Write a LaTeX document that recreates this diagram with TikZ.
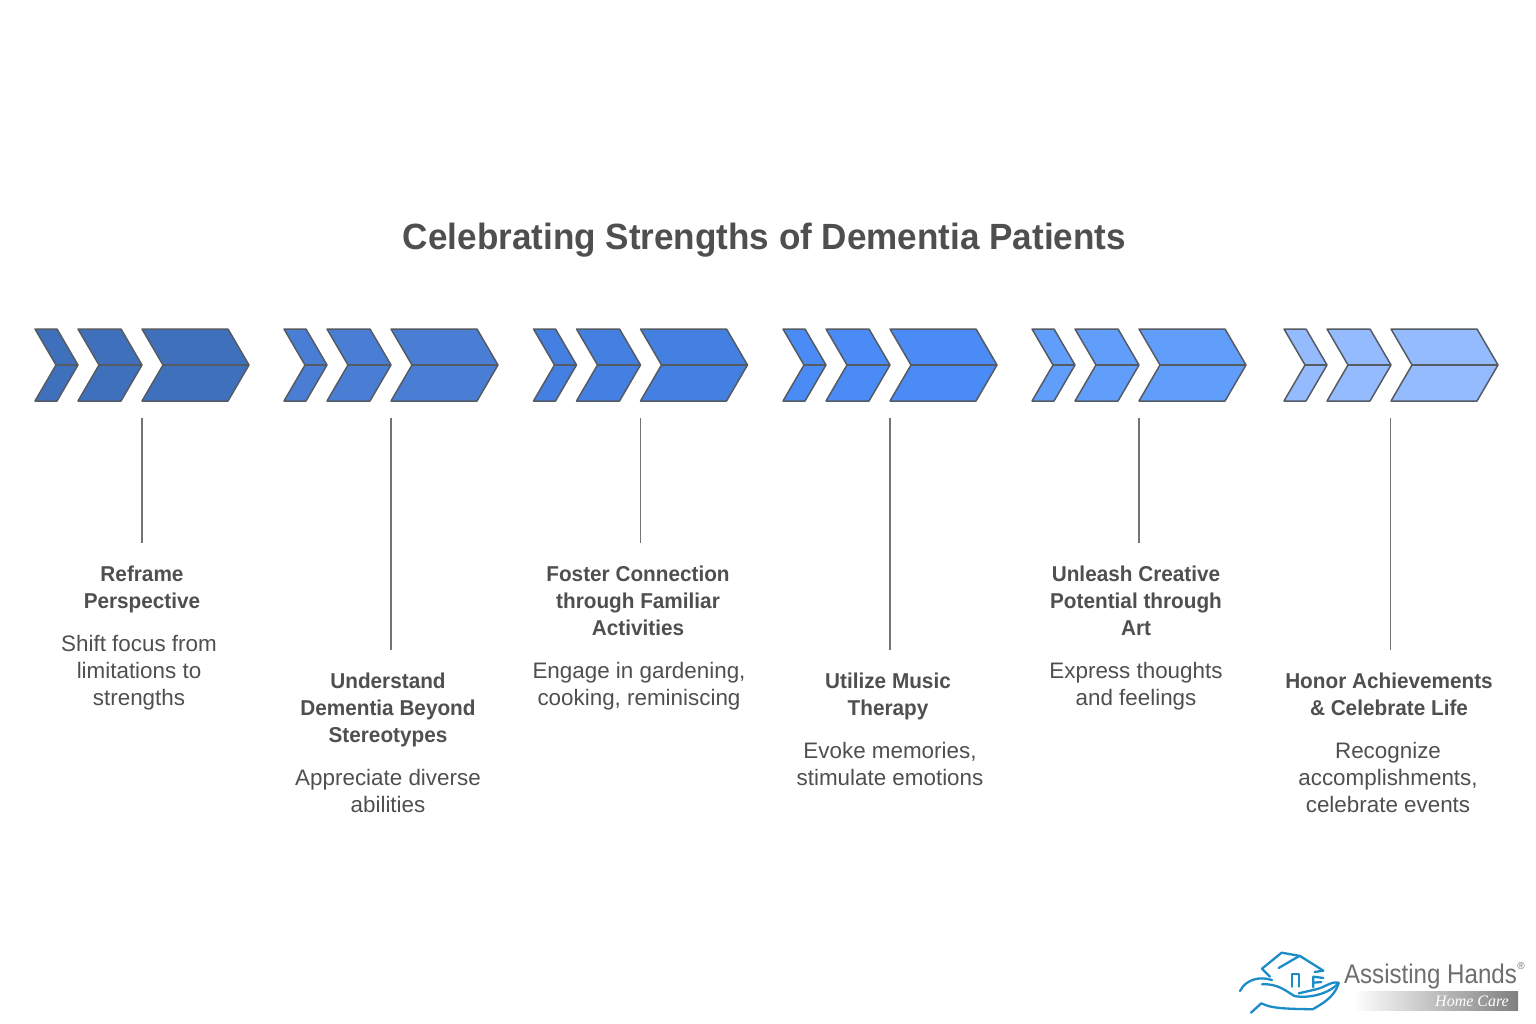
\documentclass[tikz,border=0pt]{standalone}
\usepackage{fontspec}
\setmainfont{Liberation Sans}
\newfontfamily\logoserif{Liberation Serif}
\usetikzlibrary{calc}
\definecolor{chevA}{HTML}{3F70BC}
\definecolor{chevB}{HTML}{4A7ED5}
\definecolor{chevC}{HTML}{4480E2}
\definecolor{chevD}{HTML}{4A8BF6}
\definecolor{chevE}{HTML}{619DFB}
\definecolor{chevF}{HTML}{94BBFD}
\definecolor{edgegray}{HTML}{555B63}
\definecolor{textgray}{HTML}{4F4F4F}
\definecolor{logoblue}{HTML}{1B8CC8}
\definecolor{logogray}{HTML}{7F7F7F}
\definecolor{logotext}{HTML}{6E6E6E}
\tikzset{
  titletext/.style={inner sep=0, text=textgray, xscale=0.961, font=\bfseries\fontsize{36.5}{42}\selectfont},
  headtext/.style={inner sep=0, anchor=north, align=center, text=textgray, xscale=0.965, font=\bfseries\fontsize{21.5}{27}\selectfont},
  desctext/.style={inner sep=0, anchor=north, align=center, text=textgray, font=\fontsize{22.4}{27}\selectfont},
  chevron/.style={draw=edgegray, line width=1.5pt, line join=round},
  stem/.style={draw=edgegray!85, line width=1.4pt},
  logoline/.style={draw=logoblue, line width=2.3pt, line join=round, line cap=round},
}
\begin{document}
\begin{tikzpicture}[x=1pt, y=-1pt]
  \useasboundingbox (0,0) rectangle (1536,1024);

  \node[titletext] (title) at (764.5,240) {Celebrating Strengths of Dementia Patients};

  % chevrons
  \foreach \sx/\col in {35/chevA, 284/chevB, 533.5/chevC, 783/chevD, 1032/chevE, 1284/chevF} {
    \begin{scope}[shift={(\sx,0)}]
      \draw[chevron, fill=\col] (0,329) -- (22,329) -- (43,365) -- (22,401) -- (0,401) -- (21,365) -- cycle;
      \draw[chevron] (21,365) -- (43,365);
      \draw[chevron, fill=\col] (43,329) -- (86,329) -- (107,365) -- (86,401) -- (43,401) -- (64,365) -- cycle;
      \draw[chevron] (64,365) -- (107,365);
      \draw[chevron, fill=\col] (107,329) -- (193,329) -- (214,365) -- (193,401) -- (107,401) -- (128,365) -- cycle;
      \draw[chevron] (128,365) -- (214,365);
    \end{scope}
  }

  % stems
  \foreach \name/\sx/\ey in {a/142/543, b/391/650, c/640.5/543, d/890/650, e/1139/543, f/1390.5/650} {
    \coordinate (top\name) at (\sx,418);
    \coordinate (end\name) at (\sx,\ey);
    \draw[stem] (top\name) -- (end\name);
  }

  % labels
  \node[headtext] (heada) at (142,565.5) {Reframe\\Perspective};
  \node[desctext] (desca) at (139,635.5) {Shift focus from\\limitations to\\strengths};
  \node[headtext] (headb) at (388,672.5) {Understand\\Dementia Beyond\\Stereotypes};
  \node[desctext] (descb) at (388,769.5) {Appreciate diverse\\abilities};
  \node[headtext] (headc) at (638,565.5) {Foster Connection\\through Familiar\\Activities};
  \node[desctext] (descc) at (639,662.5) {Engage in gardening,\\cooking, reminiscing};
  \node[headtext] (headd) at (888,672.5) {Utilize Music\\Therapy};
  \node[desctext] (descd) at (890,742.5) {Evoke memories,\\stimulate emotions};
  \node[headtext] (heade) at (1136,565.5) {Unleash Creative\\Potential through\\Art};
  \node[desctext] (desce) at (1136,662.5) {Express thoughts\\and feelings};
  \node[headtext] (headf) at (1389,672.5) {Honor Achievements\\\& Celebrate Life};
  \node[desctext] (descf) at (1388,742.5) {Recognize\\accomplishments,\\celebrate events};

  % logo
  \begin{scope}[shift={(1236,946)}, x=0.3333pt, y=-0.3333pt]
    \draw[logoline] (102,92) -- (78,68) -- (137,20) -- (192,30) -- (262,74) -- (236,78);
    \draw[logoline] (128,66) -- (190,30);
    \draw[logoline] (168,122) -- (168,85) -- (190,85) -- (190,122);
    \draw[logoline] (262,96) -- (232,92) -- (232,124);
    \draw[logoline] (234,110) -- (256,108);
    \draw[logoline] (12,135) .. controls (30,100) and (70,90) .. (108,102);
    \draw[logoline] (78,115) .. controls (125,112) and (150,135) .. (175,150) .. controls (215,158) and (280,145) .. (308,110) .. controls (285,105) and (265,125) .. (240,130) -- (188,142);
    \draw[logoline] (45,200) -- (76,172) .. controls (110,190) and (170,188) .. (230,190) .. controls (255,175) and (295,155) .. (308,112);
  \end{scope}
  \node[inner sep=0, text=logotext, xscale=0.893, font=\fontsize{27}{30}\selectfont] (logoname) at (1430.5,976.5) {Assisting Hands};
  \node[inner sep=0, text=logotext, font=\fontsize{10}{11}\selectfont] (logoreg) at (1521,966) {®};
  \fill[left color=white, right color=logogray] (1353,991) rectangle (1518,1010);
  \node[inner sep=0, text=white, font=\logoserif\itshape\fontsize{16}{18}\selectfont] (logocare) at (1472,1001) {Home Care};
\end{tikzpicture}
\end{document}
